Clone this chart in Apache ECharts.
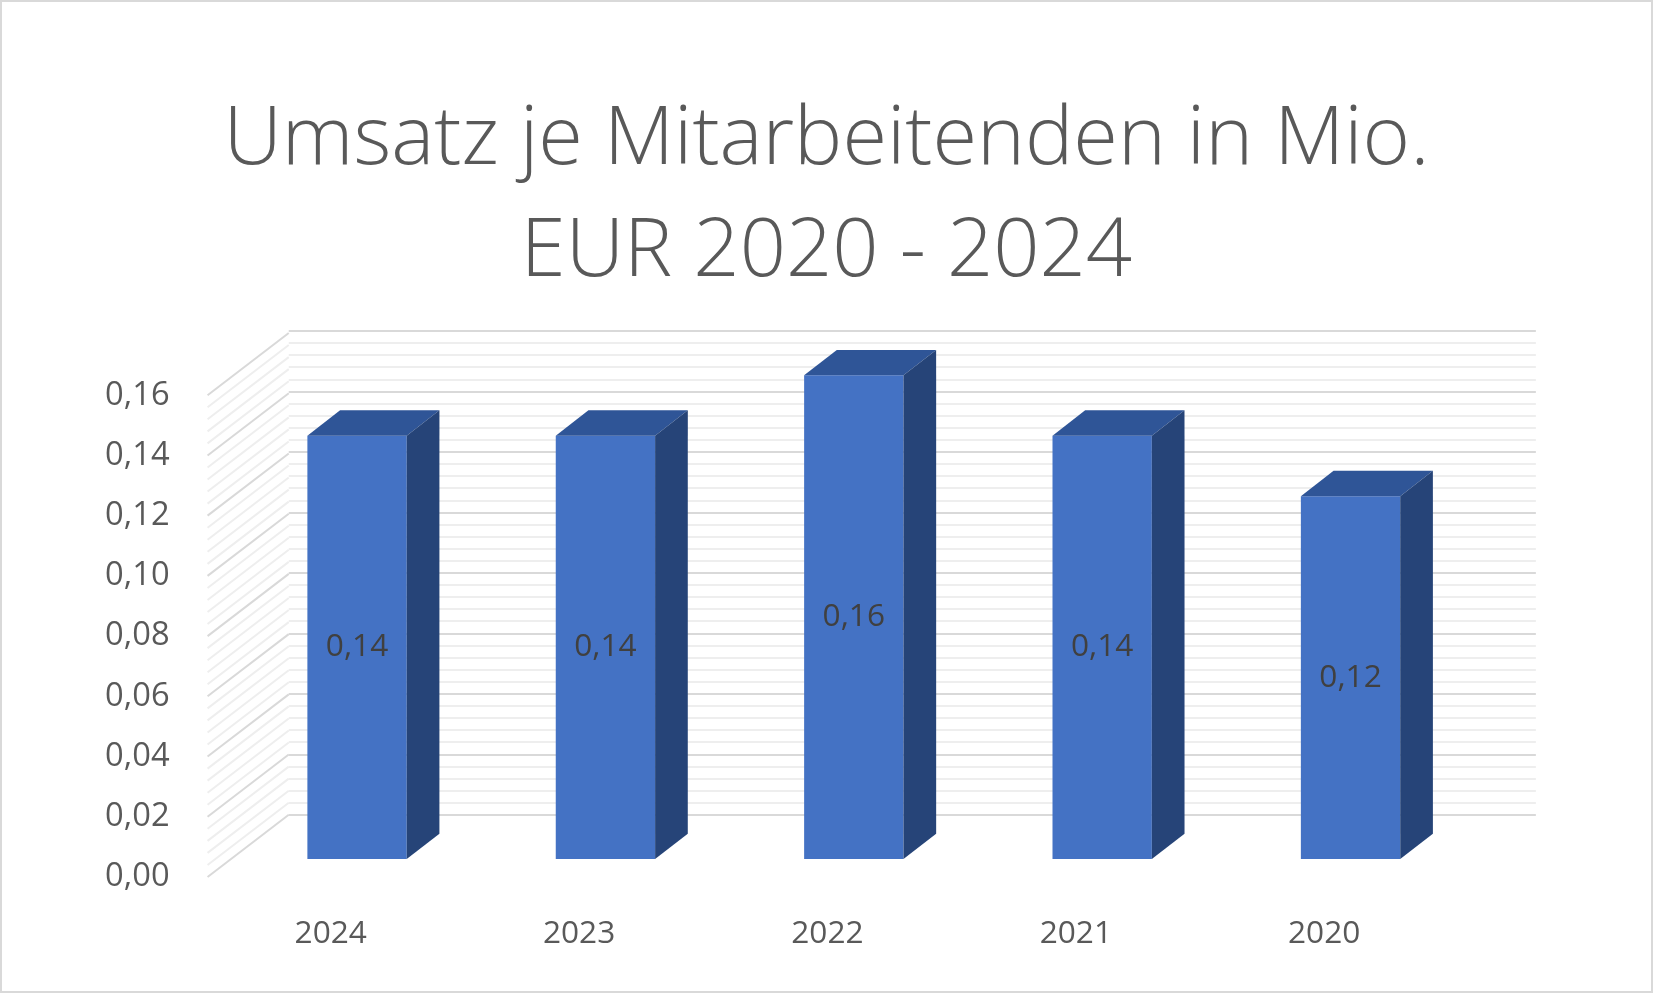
<!DOCTYPE html>
<html><head><meta charset="utf-8">
<script src="https://cdn.jsdelivr.net/npm/echarts@6/dist/echarts.min.js"></script>
<style>html,body{margin:0;padding:0;background:#fff}#c{width:1653px;height:993px;box-sizing:border-box;border:2px solid #d9d9d9}</style>
</head><body><div id="c"></div>
<script>
const categories = ['2024','2023','2022','2021','2020'];
const values = [0.14, 0.14, 0.16, 0.14, 0.12];
const wallTicks = [0,0.004,0.008,0.012,0.016,0.02,0.024,0.028,0.032,0.036,0.04,0.044,0.048,0.052,0.056,0.06,0.064,0.068,0.072,0.076,0.08,0.084,0.088,0.092,0.096,0.1,0.104,0.108,0.112,0.116,0.12,0.124,0.128,0.132,0.136,0.14,0.144,0.148,0.152,0.156,0.16];
const S = 1653/1568;
const fmt = v => v.toFixed(2).replace('.', ',');
const chart = echarts.init(document.getElementById('c'));
const dx = 31*S, dy = -24*S;
chart.setOption({
  animation:false,
  title:{text:'Umsatz je Mitarbeitenden in Mio.\nEUR 2020 - 2024', left:'center', top:74*S,
    textStyle:{fontFamily:'Open Sans', fontWeight:300, fontSize:77*S, lineHeight:106*S, color:'#595959'}},
  grid:[
    {left:219*S, width:1178*S, top:354*S, height:459*S},
    {left:272*S, width:1183*S, top:312*S, height:459*S},
    {left:195*S, width:77*S, top:373*S, height:457*S}
  ],
  xAxis:[
    {gridIndex:0,type:'category',data:categories,axisLine:{show:false},axisTick:{show:false},
     axisLabel:{margin:56*S,padding:[0,50*S,0,0],fontFamily:'Open Sans',fontSize:30*S,color:'#595959'}},
    {gridIndex:1,type:'value',show:false},
    {gridIndex:2,type:'value',show:false,min:0,max:1}
  ],
  yAxis:[
    {gridIndex:0,type:'value',min:0,max:0.16,show:false},
    {gridIndex:1,type:'value',min:0,max:0.16,interval:0.02,axisLabel:{show:false},axisLine:{show:false},axisTick:{show:false},
     splitLine:{lineStyle:{color:'#d9d9d9',width:2}},minorTick:{show:false,splitNumber:5},minorSplitLine:{show:true,lineStyle:{color:'#eeeeee',width:2}}},
    {gridIndex:2,type:'value',min:0,max:0.16,interval:0.02,axisLine:{show:false},axisTick:{show:false},splitLine:{show:false},
     axisLabel:{formatter:fmt,margin:36*S,fontFamily:'Open Sans',fontSize:31*S,color:'#595959'}}
  ],
  series:[
    {type:'custom',xAxisIndex:2,yAxisIndex:2,data:wallTicks.map(v=>[0,v]),renderItem:(p,api)=>{
      const v=api.value(1); const pt=api.coord([0,v]);
      const major=Math.abs(v/0.02-Math.round(v/0.02))<1e-6;
      return {type:'line',shape:{x1:pt[0],y1:pt[1],x2:pt[0]+77*S,y2:pt[1]-59*S},
        style:{stroke:major?'#d9d9d9':'#eeeeee',lineWidth:2}};
    },z:1},
    {type:'custom',xAxisIndex:0,yAxisIndex:0,data:values.map((v,i)=>[i,v]),renderItem:(p,api)=>{
      const i=api.value(0), v=api.value(1);
      const top=api.coord([i,v]), base=api.coord([i,0]);
      const w=api.size([1,0])[0]*0.4;
      const l=top[0]-w/2, r=top[0]+w/2, t=top[1], b=base[1];
      return {type:'group',children:[
        {type:'rect',shape:{x:l,y:t,width:w,height:b-t},style:{fill:'#4472c4'}},
        {type:'polygon',shape:{points:[[l,t],[r,t],[r+dx,t+dy],[l+dx,t+dy]]},style:{fill:'#2f5597'}},
        {type:'polygon',shape:{points:[[r,t],[r+dx,t+dy],[r+dx,b+dy],[r,b]]},style:{fill:'#264478'}},
        {type:'text',style:{x:top[0],y:(t+b)/2,text:fmt(v),align:'center',verticalAlign:'middle',
          fontFamily:'Open Sans',fontSize:30*S,fill:'#404040'}}
      ]};
    },z:5}
  ]
});
</script></body></html>
